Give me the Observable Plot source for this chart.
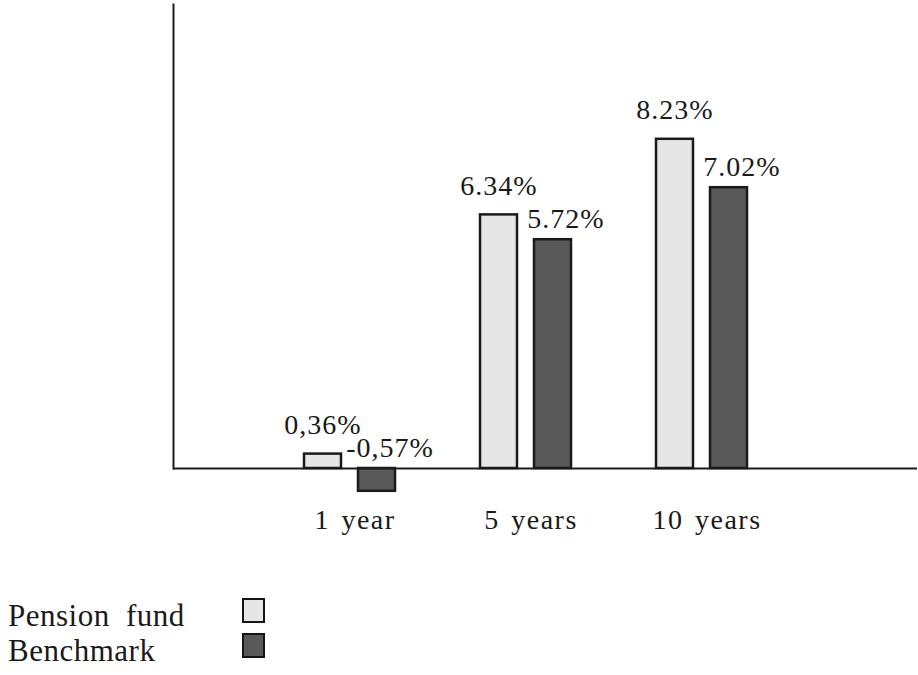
<!DOCTYPE html>
<html>
<head>
<meta charset="utf-8">
<script src="https://cdn.jsdelivr.net/npm/d3@7"></script>
<script src="https://cdn.jsdelivr.net/npm/@observablehq/plot@0.6"></script>
<style>
  html, body { margin: 0; padding: 0; background: #fff; }
  body { width: 918px; height: 675px; position: relative; overflow: hidden;
         font-family: "Liberation Serif", Tinos, "Times New Roman", Times, "DejaVu Serif", serif; color: #1a1a1a; }
  #chart svg, #chart svg text { font-family: "Liberation Serif", Tinos, "Times New Roman", Times, "DejaVu Serif", serif !important; }
  #chart svg text { letter-spacing: 1px; }
  #chart svg g.xlab text { letter-spacing: 1.5px; word-spacing: 3px; }
  #legend { position: absolute; left: 8px; top: 598px; }
  .row { display: flex; align-items: flex-start; height: 35px; }
  .row span { display: inline-block; width: 234px; font-size: 31px; line-height: 35px;
              letter-spacing: 0.5px; word-spacing: 8px; }
  .row i { display: inline-block; width: 19px; height: 21px; border: 2px solid #151515; }
</style>
</head>
<body>
<div id="chart"></div>
<div id="legend"></div>
<script>
// ---- data ----
const periods = ["1 year", "5 years", "10 years"];
const seriesNames = ["Pension fund", "Benchmark"];
const pensionValues = [0.36, 6.34, 8.23];
const benchmarkValues = [-0.57, 5.72, 7.02];
const pensionLabels = ["0,36%", "6.34%", "8.23%"];
const benchmarkLabels = ["-0,57%", "5.72%", "7.02%"];
const seriesColors = ["#e6e6e6", "#595959"];

const pension = periods.map((p, i) => ({period: p, value: pensionValues[i], label: pensionLabels[i]}));
const benchmark = periods.map((p, i) => ({period: p, value: benchmarkValues[i], label: benchmarkLabels[i]}));

const ink = "#1a1a1a";

const chart = Plot.plot({
  width: 918,
  height: 560,
  marginLeft: 173,
  marginRight: 1,
  marginTop: 4,
  marginBottom: 92,
  style: {color: ink, background: "#fff"},
  x: {type: "band", domain: periods, paddingInner: 0.485, paddingOuter: 0.847, align: 0.434, axis: null},
  y: {domain: [0, 11.6], axis: null},
  marks: [
    Plot.frame({anchor: "left", stroke: ink, strokeWidth: 2}),
    Plot.barY(pension, {x: "period", y: "value", fill: seriesColors[0], stroke: ink, strokeWidth: 2.5, insetRight: 54}),
    Plot.barY(benchmark, {x: "period", y: "value", fill: seriesColors[1], stroke: ink, strokeWidth: 2.5, insetLeft: 54}),
    Plot.ruleY([0], {stroke: ink, strokeWidth: 2}),
    Plot.text(pension, {x: "period", y: d => Math.max(0, d.value), text: "label", dx: -27, dy: -20,
      lineAnchor: "bottom", fontSize: 28, fill: ink}),
    Plot.text(benchmark, {x: "period", y: d => Math.max(0, d.value), text: "label", dx: 40, dy: -12,
      lineAnchor: "bottom", fontSize: 28, fill: ink}),
    Plot.text(periods, {x: d => d, frameAnchor: "bottom", text: d => d, dy: 60, dx: 5,
      lineAnchor: "bottom", fontSize: 28, fill: ink, className: "xlab"})
  ]
});
document.getElementById("chart").appendChild(chart);

// ---- legend ----
const legend = d3.select("#legend");
seriesNames.forEach((name, i) => {
  const row = legend.append("div").attr("class", "row");
  row.append("span").text(name);
  row.append("i").style("background", seriesColors[i]);
});
</script>
</body>
</html>
